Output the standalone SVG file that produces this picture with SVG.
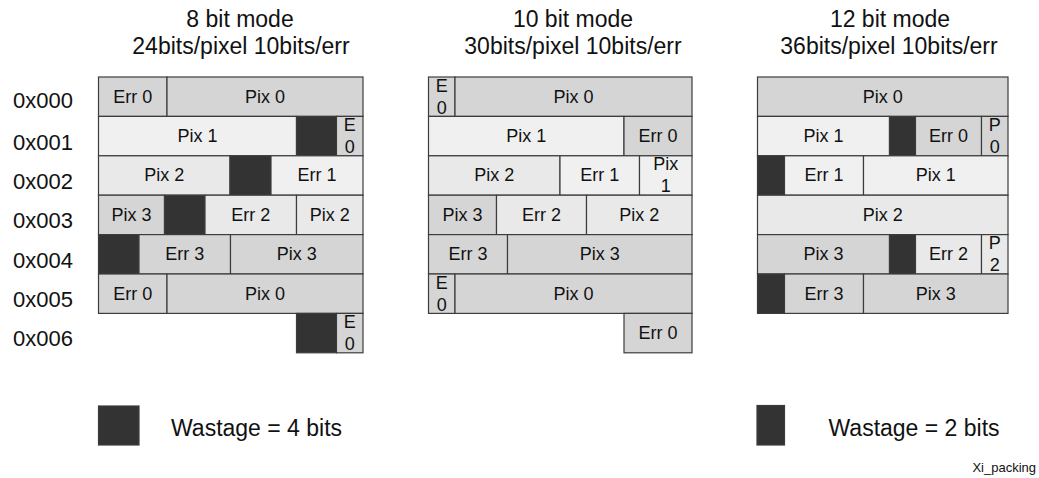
<svg xmlns="http://www.w3.org/2000/svg" width="1039" height="478" viewBox="0 0 1039 478">
<style>
text{font-family:"Liberation Sans",Arial,sans-serif;fill:#111;}
.t{font-size:23px;text-anchor:middle;}
.a{font-size:22px;}
.c{font-size:18px;text-anchor:middle;}
.lg{font-size:23px;}
.ft{font-size:13px;text-anchor:end;}
.d,.l1,.l2,.w{stroke:#3c3c3c;stroke-width:1.2;}
.d{fill:#d5d5d5;}
.l1{fill:#f0f0f0;}
.l2{fill:#e9e9e9;}
.w{fill:#333333;}
</style>
<rect width="1039" height="478" fill="#ffffff"/>
<g id="titles">
<text class="t" x="240" y="27">8 bit mode</text>
<text class="t" x="241" y="54">24bits/pixel 10bits/err</text>
<text class="t" x="573" y="27">10 bit mode</text>
<text class="t" x="573" y="54">30bits/pixel 10bits/err</text>
<text class="t" x="890" y="27">12 bit mode</text>
<text class="t" x="889" y="54">36bits/pixel 10bits/err</text>
</g>
<g id="addresses">
<text class="a" x="13" y="108">0x000</text>
<text class="a" x="13" y="150">0x001</text>
<text class="a" x="13" y="188.5">0x002</text>
<text class="a" x="13" y="228">0x003</text>
<text class="a" x="13" y="267.5">0x004</text>
<text class="a" x="13" y="306.5">0x005</text>
<text class="a" x="13" y="345.5">0x006</text>
</g>
<g id="mode8">
<g id="m8-r0-err0"><rect class="d" x="98.5" y="77" width="68.5" height="39.4"/><text class="c" x="132.75" y="102.5">Err 0</text></g>
<g id="m8-r0-pix0"><rect class="d" x="167" y="77" width="196" height="39.4"/><text class="c" x="265" y="102.5">Pix 0</text></g>
<g id="m8-r1-pix1"><rect class="l1" x="98.5" y="116.4" width="198" height="39.4"/><text class="c" x="197.5" y="141.9">Pix 1</text></g>
<g id="m8-r1-waste"><rect class="w" x="296.5" y="116.4" width="40" height="39.4"/></g>
<g id="m8-r1-e0"><rect class="d" x="336.5" y="116.4" width="26.5" height="39.4"/><text class="c" x="349.75" y="130.9">E</text><text class="c" x="349.75" y="152.9">0</text></g>
<g id="m8-r2-pix2"><rect class="l2" x="98.5" y="155.8" width="131.5" height="39.4"/><text class="c" x="164.25" y="181.3">Pix 2</text></g>
<g id="m8-r2-waste"><rect class="w" x="230" y="155.8" width="41" height="39.4"/></g>
<g id="m8-r2-err1"><rect class="l1" x="271" y="155.8" width="92" height="39.4"/><text class="c" x="317" y="181.3">Err 1</text></g>
<g id="m8-r3-pix3"><rect class="d" x="98.5" y="195.2" width="66" height="39.4"/><text class="c" x="131.5" y="220.7">Pix 3</text></g>
<g id="m8-r3-waste"><rect class="w" x="164.5" y="195.2" width="40.5" height="39.4"/></g>
<g id="m8-r3-err2"><rect class="l2" x="205" y="195.2" width="91.5" height="39.4"/><text class="c" x="250.75" y="220.7">Err 2</text></g>
<g id="m8-r3-pix2"><rect class="l2" x="296.5" y="195.2" width="66.5" height="39.4"/><text class="c" x="329.75" y="220.7">Pix 2</text></g>
<g id="m8-r4-waste"><rect class="w" x="98.5" y="234.6" width="40.5" height="39.4"/></g>
<g id="m8-r4-err3"><rect class="d" x="139" y="234.6" width="91.5" height="39.4"/><text class="c" x="184.75" y="260.1">Err 3</text></g>
<g id="m8-r4-pix3"><rect class="d" x="230.5" y="234.6" width="132.5" height="39.4"/><text class="c" x="296.75" y="260.1">Pix 3</text></g>
<g id="m8-r5-err0"><rect class="d" x="98.5" y="274" width="68.5" height="39.4"/><text class="c" x="132.75" y="299.5">Err 0</text></g>
<g id="m8-r5-pix0"><rect class="d" x="167" y="274" width="196" height="39.4"/><text class="c" x="265" y="299.5">Pix 0</text></g>
<g id="m8-r6-waste"><rect class="w" x="296.5" y="313.4" width="40" height="39.4"/></g>
<g id="m8-r6-e0"><rect class="d" x="336.5" y="313.4" width="26.5" height="39.4"/><text class="c" x="349.75" y="327.9">E</text><text class="c" x="349.75" y="349.9">0</text></g>
</g>
<g id="mode10">
<g id="m10-r0-e0"><rect class="d" x="428.5" y="77" width="26.5" height="39.4"/><text class="c" x="441.75" y="91.5">E</text><text class="c" x="441.75" y="113.5">0</text></g>
<g id="m10-r0-pix0"><rect class="d" x="455" y="77" width="237" height="39.4"/><text class="c" x="573.5" y="102.5">Pix 0</text></g>
<g id="m10-r1-pix1"><rect class="l1" x="428.5" y="116.4" width="195.5" height="39.4"/><text class="c" x="526.25" y="141.9">Pix 1</text></g>
<g id="m10-r1-err0"><rect class="d" x="624" y="116.4" width="68" height="39.4"/><text class="c" x="658" y="141.9">Err 0</text></g>
<g id="m10-r2-pix2"><rect class="l2" x="428.5" y="155.8" width="131.5" height="39.4"/><text class="c" x="494.25" y="181.3">Pix 2</text></g>
<g id="m10-r2-err1"><rect class="l1" x="560" y="155.8" width="79.5" height="39.4"/><text class="c" x="599.75" y="181.3">Err 1</text></g>
<g id="m10-r2-pix1"><rect class="l1" x="639.5" y="155.8" width="52.5" height="39.4"/><text class="c" x="665.75" y="170.3">Pix</text><text class="c" x="665.75" y="192.3">1</text></g>
<g id="m10-r3-pix3"><rect class="d" x="428.5" y="195.2" width="68" height="39.4"/><text class="c" x="462.5" y="220.7">Pix 3</text></g>
<g id="m10-r3-err2"><rect class="l2" x="496.5" y="195.2" width="90" height="39.4"/><text class="c" x="541.5" y="220.7">Err 2</text></g>
<g id="m10-r3-pix2"><rect class="l2" x="586.5" y="195.2" width="105.5" height="39.4"/><text class="c" x="639.25" y="220.7">Pix 2</text></g>
<g id="m10-r4-err3"><rect class="d" x="428.5" y="234.6" width="79" height="39.4"/><text class="c" x="468" y="260.1">Err 3</text></g>
<g id="m10-r4-pix3"><rect class="d" x="507.5" y="234.6" width="184.5" height="39.4"/><text class="c" x="599.75" y="260.1">Pix 3</text></g>
<g id="m10-r5-e0"><rect class="d" x="428.5" y="274" width="26.5" height="39.4"/><text class="c" x="441.75" y="288.5">E</text><text class="c" x="441.75" y="310.5">0</text></g>
<g id="m10-r5-pix0"><rect class="d" x="455" y="274" width="237" height="39.4"/><text class="c" x="573.5" y="299.5">Pix 0</text></g>
<g id="m10-r6-err0"><rect class="d" x="624" y="313.4" width="68" height="39.4"/><text class="c" x="658" y="338.9">Err 0</text></g>
</g>
<g id="mode12">
<g id="m12-r0-pix0"><rect class="d" x="757.5" y="77" width="250.5" height="39.4"/><text class="c" x="882.75" y="102.5">Pix 0</text></g>
<g id="m12-r1-pix1"><rect class="l1" x="757.5" y="116.4" width="132" height="39.4"/><text class="c" x="823.5" y="141.9">Pix 1</text></g>
<g id="m12-r1-waste"><rect class="w" x="889.5" y="116.4" width="26" height="39.4"/></g>
<g id="m12-r1-err0"><rect class="d" x="915.5" y="116.4" width="66" height="39.4"/><text class="c" x="948.5" y="141.9">Err 0</text></g>
<g id="m12-r1-p0"><rect class="d" x="981.5" y="116.4" width="26.5" height="39.4"/><text class="c" x="994.75" y="130.9">P</text><text class="c" x="994.75" y="152.9">0</text></g>
<g id="m12-r2-waste"><rect class="w" x="757.5" y="155.8" width="27" height="39.4"/></g>
<g id="m12-r2-err1"><rect class="l1" x="784.5" y="155.8" width="79" height="39.4"/><text class="c" x="824" y="181.3">Err 1</text></g>
<g id="m12-r2-pix1"><rect class="l1" x="863.5" y="155.8" width="144.5" height="39.4"/><text class="c" x="935.75" y="181.3">Pix 1</text></g>
<g id="m12-r3-pix2"><rect class="l2" x="757.5" y="195.2" width="250.5" height="39.4"/><text class="c" x="882.75" y="220.7">Pix 2</text></g>
<g id="m12-r4-pix3"><rect class="d" x="757.5" y="234.6" width="132" height="39.4"/><text class="c" x="823.5" y="260.1">Pix 3</text></g>
<g id="m12-r4-waste"><rect class="w" x="889.5" y="234.6" width="26" height="39.4"/></g>
<g id="m12-r4-err2"><rect class="l2" x="915.5" y="234.6" width="66" height="39.4"/><text class="c" x="948.5" y="260.1">Err 2</text></g>
<g id="m12-r4-p2"><rect class="l2" x="981.5" y="234.6" width="26.5" height="39.4"/><text class="c" x="994.75" y="249.1">P</text><text class="c" x="994.75" y="271.1">2</text></g>
<g id="m12-r5-waste"><rect class="w" x="757.5" y="274" width="27" height="39.4"/></g>
<g id="m12-r5-err3"><rect class="d" x="784.5" y="274" width="79" height="39.4"/><text class="c" x="824" y="299.5">Err 3</text></g>
<g id="m12-r5-pix3"><rect class="d" x="863.5" y="274" width="144.5" height="39.4"/><text class="c" x="935.75" y="299.5">Pix 3</text></g>
</g>
<g id="legend8"><rect class="w" x="98.5" y="406" width="40.5" height="39"/><text class="lg" x="171" y="436">Wastage = 4 bits</text></g>
<g id="legend12"><rect class="w" x="757" y="405.5" width="27.5" height="39.5"/><text class="lg" x="828.5" y="436">Wastage = 2 bits</text></g>
<g id="footer"><text class="ft" x="1036" y="472">Xi_packing</text></g>
</svg>
